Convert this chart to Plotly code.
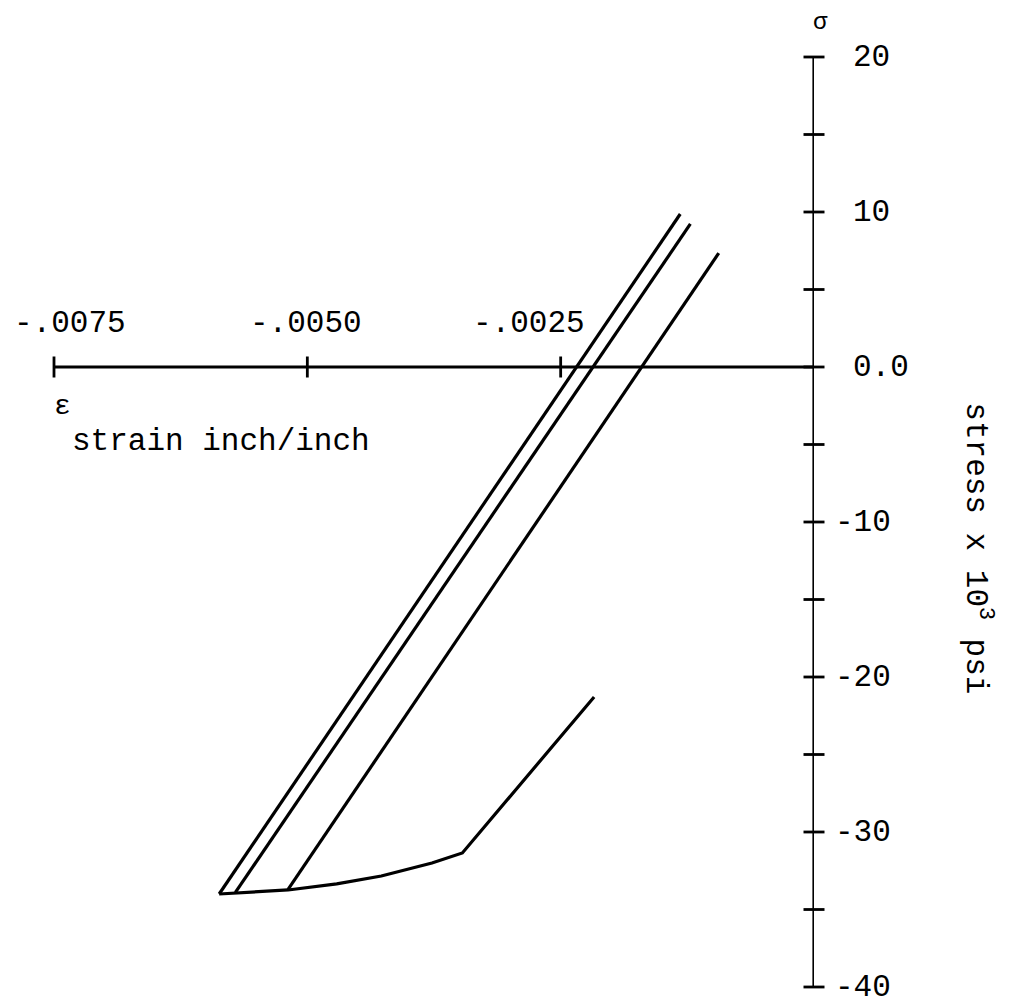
import plotly.graph_objects as go

# ---- data (strain in inch/inch, stress in 10^3 psi) ----
line1_strain = [-0.00587, -0.00132]
line1_stress = [-34.0, 9.87]
line2_strain = [-0.00571, -0.00122]
line2_stress = [-33.9, 9.23]
line3_strain = [-0.00519, -0.00094]
line3_stress = [-33.7, 7.35]
env_strain = [-0.00587, -0.00571, -0.00519, -0.00471, -0.00427, -0.00377, -0.00347, -0.00217]
env_stress = [-34.0, -33.94, -33.74, -33.35, -32.84, -32.0, -31.35, -21.29]

x_tick_vals = [-0.0075, -0.0050, -0.0025]
x_tick_text = ["-.0075", "-.0050", "-.0025"]
y_tick_vals = [20, 15, 10, 5, 0, -5, -10, -15, -20, -25, -30, -35, -40]
y_label_vals = [20, 10, 0, -10, -20, -30, -40]
y_label_text = ["20", "10", "0.0", "-10", "-20", "-30", "-40"]

X_MIN, X_MAX = -0.0075, 0.0
Y_MIN, Y_MAX = -40, 20

FONT = "Liberation Mono"
FS = 31
LW = 3.2

fig = go.Figure()

# axis lines
fig.add_trace(go.Scatter(x=[X_MIN, X_MAX], y=[0, 0], mode="lines",
                         line=dict(color="black", width=LW), cliponaxis=False))
fig.add_trace(go.Scatter(x=[0, 0], y=[Y_MIN, Y_MAX], mode="lines",
                         line=dict(color="black", width=LW), cliponaxis=False))
# crossing ticks
fig.add_trace(go.Scatter(x=x_tick_vals, y=[0] * len(x_tick_vals), mode="markers",
                         marker=dict(symbol="line-ns", size=15,
                                     line=dict(color="black", width=2.8)),
                         cliponaxis=False))
fig.add_trace(go.Scatter(x=[0] * len(y_tick_vals), y=y_tick_vals, mode="markers",
                         marker=dict(symbol="line-ew", size=15,
                                     line=dict(color="black", width=2.8)),
                         cliponaxis=False))

# curves
for xs, ys in [(line1_strain, line1_stress), (line2_strain, line2_stress),
               (line3_strain, line3_stress), (env_strain, env_stress)]:
    fig.add_trace(go.Scatter(x=xs, y=ys, mode="lines",
                             line=dict(color="black", width=LW), cliponaxis=False))

annots = []
# x tick labels
x_label_shift = [16, -1, -32]
for v, t, s in zip(x_tick_vals, x_tick_text, x_label_shift):
    annots.append(dict(x=v, y=0, text=t, showarrow=False, xanchor="center",
                       yanchor="middle", xshift=s, yshift=44,
                       font=dict(family=FONT, size=FS, color="black")))
# y tick labels
for v, t in zip(y_label_vals, y_label_text):
    annots.append(dict(x=0, y=v, text=t, showarrow=False, xanchor="left",
                       yanchor="middle", xshift=19 if t.startswith("-") else 37,
                       font=dict(family=FONT, size=FS, color="black")))
# axis symbols & titles
annots.append(dict(x=0, y=Y_MAX, text="σ", showarrow=False, xanchor="center",
                   yanchor="middle", xshift=6, yshift=35,
                   font=dict(family=FONT, size=24, color="black")))
annots.append(dict(x=X_MIN, y=0, text="ε", showarrow=False, xanchor="left",
                   yanchor="middle", xshift=-2, yshift=-39,
                   font=dict(family=FONT, size=28, color="black")))
annots.append(dict(x=X_MIN, y=0, text="strain inch/inch", showarrow=False,
                   xanchor="left", yanchor="middle", xshift=16, yshift=-74,
                   font=dict(family=FONT, size=FS, color="black")))
annots.append(dict(x=0, y=-11.7, text="stress x 10<sup>3</sup> psi", showarrow=False,
                   xanchor="center", yanchor="middle", xshift=164, textangle=90,
                   font=dict(family=FONT, size=FS, color="black")))

# the page body adds an 8px offset, so margins are reduced by 8
fig.update_layout(
    width=995, height=992,
    margin=dict(l=46, r=189, t=49, b=13),
    paper_bgcolor="white", plot_bgcolor="white",
    showlegend=False,
    xaxis=dict(range=[X_MIN, X_MAX], visible=False, fixedrange=True),
    yaxis=dict(range=[Y_MIN, Y_MAX], visible=False, fixedrange=True),
    annotations=annots,
    hovermode=False,
)

fig.write_html("out.html", config={"displayModeBar": False})
